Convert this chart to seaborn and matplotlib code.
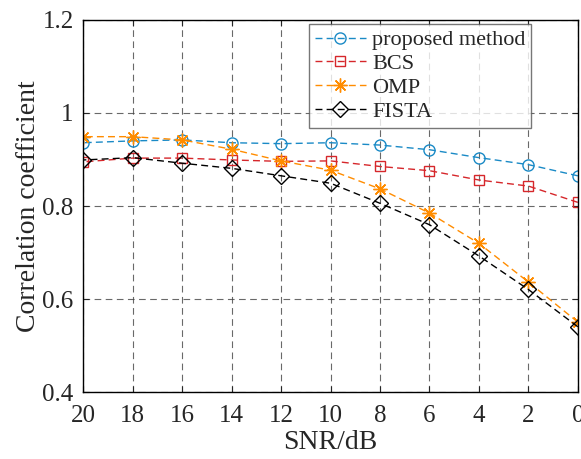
import numpy as np
import pandas as pd
import seaborn as sns
import matplotlib.pyplot as plt

snr = [20, 18, 16, 14, 12, 10, 8, 6, 4, 2, 0]
proposed = [0.936, 0.940, 0.942, 0.936, 0.934, 0.936, 0.931, 0.921, 0.904, 0.889, 0.865]
bcs = [0.895, 0.903, 0.903, 0.899, 0.896, 0.897, 0.885, 0.876, 0.856, 0.843, 0.808]
omp = [0.949, 0.949, 0.942, 0.922, 0.897, 0.877, 0.837, 0.785, 0.720, 0.637, 0.551]
fista = [0.899, 0.904, 0.892, 0.881, 0.865, 0.849, 0.806, 0.760, 0.693, 0.621, 0.541]

methods = ['proposed method', 'BCS', 'OMP', 'FISTA']
colors = ['#1a8ac6', '#d6272b', '#ff8c00', '#000000']
markers = ['o', 's', (8, 2, 0), 'D']
msizes = [8, 6.5, 10, 8]

df = pd.DataFrame({'SNR': snr * 4,
                   'value': proposed + bcs + omp + fista,
                   'method': np.repeat(methods, len(snr))})

sns.set_style('ticks')
plt.rcParams['font.family'] = ['Liberation Serif', 'DejaVu Serif']

fig = plt.figure(figsize=(5.81, 4.59), dpi=100)
ax = fig.add_axes([0.1435, 0.145, 0.851, 0.812])

for m, c, mk, ms in zip(methods, colors, markers, msizes):
    sub = df[df['method'] == m]
    sns.lineplot(data=sub, x='SNR', y='value', ax=ax, color=c, marker=mk,
                 markersize=ms, markerfacecolor='none', markeredgecolor=c,
                 markeredgewidth=1.0, linestyle=(0, (5, 3)), linewidth=1.0,
                 label=m)

ax.set_xlim(20, 0)
ax.set_ylim(0.4, 1.2)
ax.set_xticks(snr)
ax.set_xticklabels([str(s) for s in snr])
ax.set_yticks([0.4, 0.6, 0.8, 1.0, 1.2])
ax.set_yticklabels(['0.4', '0.6', '0.8', '1', '1.2'])
ax.grid(True, color='#444444', linestyle=(0, (6, 4)), linewidth=0.8, alpha=0.8)
ax.tick_params(direction='in', top=True, right=True, labelsize=18, length=4)
ax.tick_params(axis='x', pad=9)
ax.tick_params(axis='y', pad=7)
for s in ax.spines.values():
    s.set_visible(True)
    s.set_linewidth(1.0)
    s.set_color('black')

ax.set_xlabel('SNR/dB', fontsize=20, labelpad=2)
ax.set_ylabel('Correlation coefficient', fontsize=20, labelpad=1)

leg = ax.legend(loc='upper right', bbox_to_anchor=(0.906, 0.988), fontsize=16,
                frameon=True, fancybox=False, edgecolor='#555555',
                handlelength=2.3, borderpad=0.25, labelspacing=0.15,
                handletextpad=0.3, borderaxespad=0)
leg.get_frame().set_linewidth(1.0)

fig.savefig('out.png', dpi=100)
